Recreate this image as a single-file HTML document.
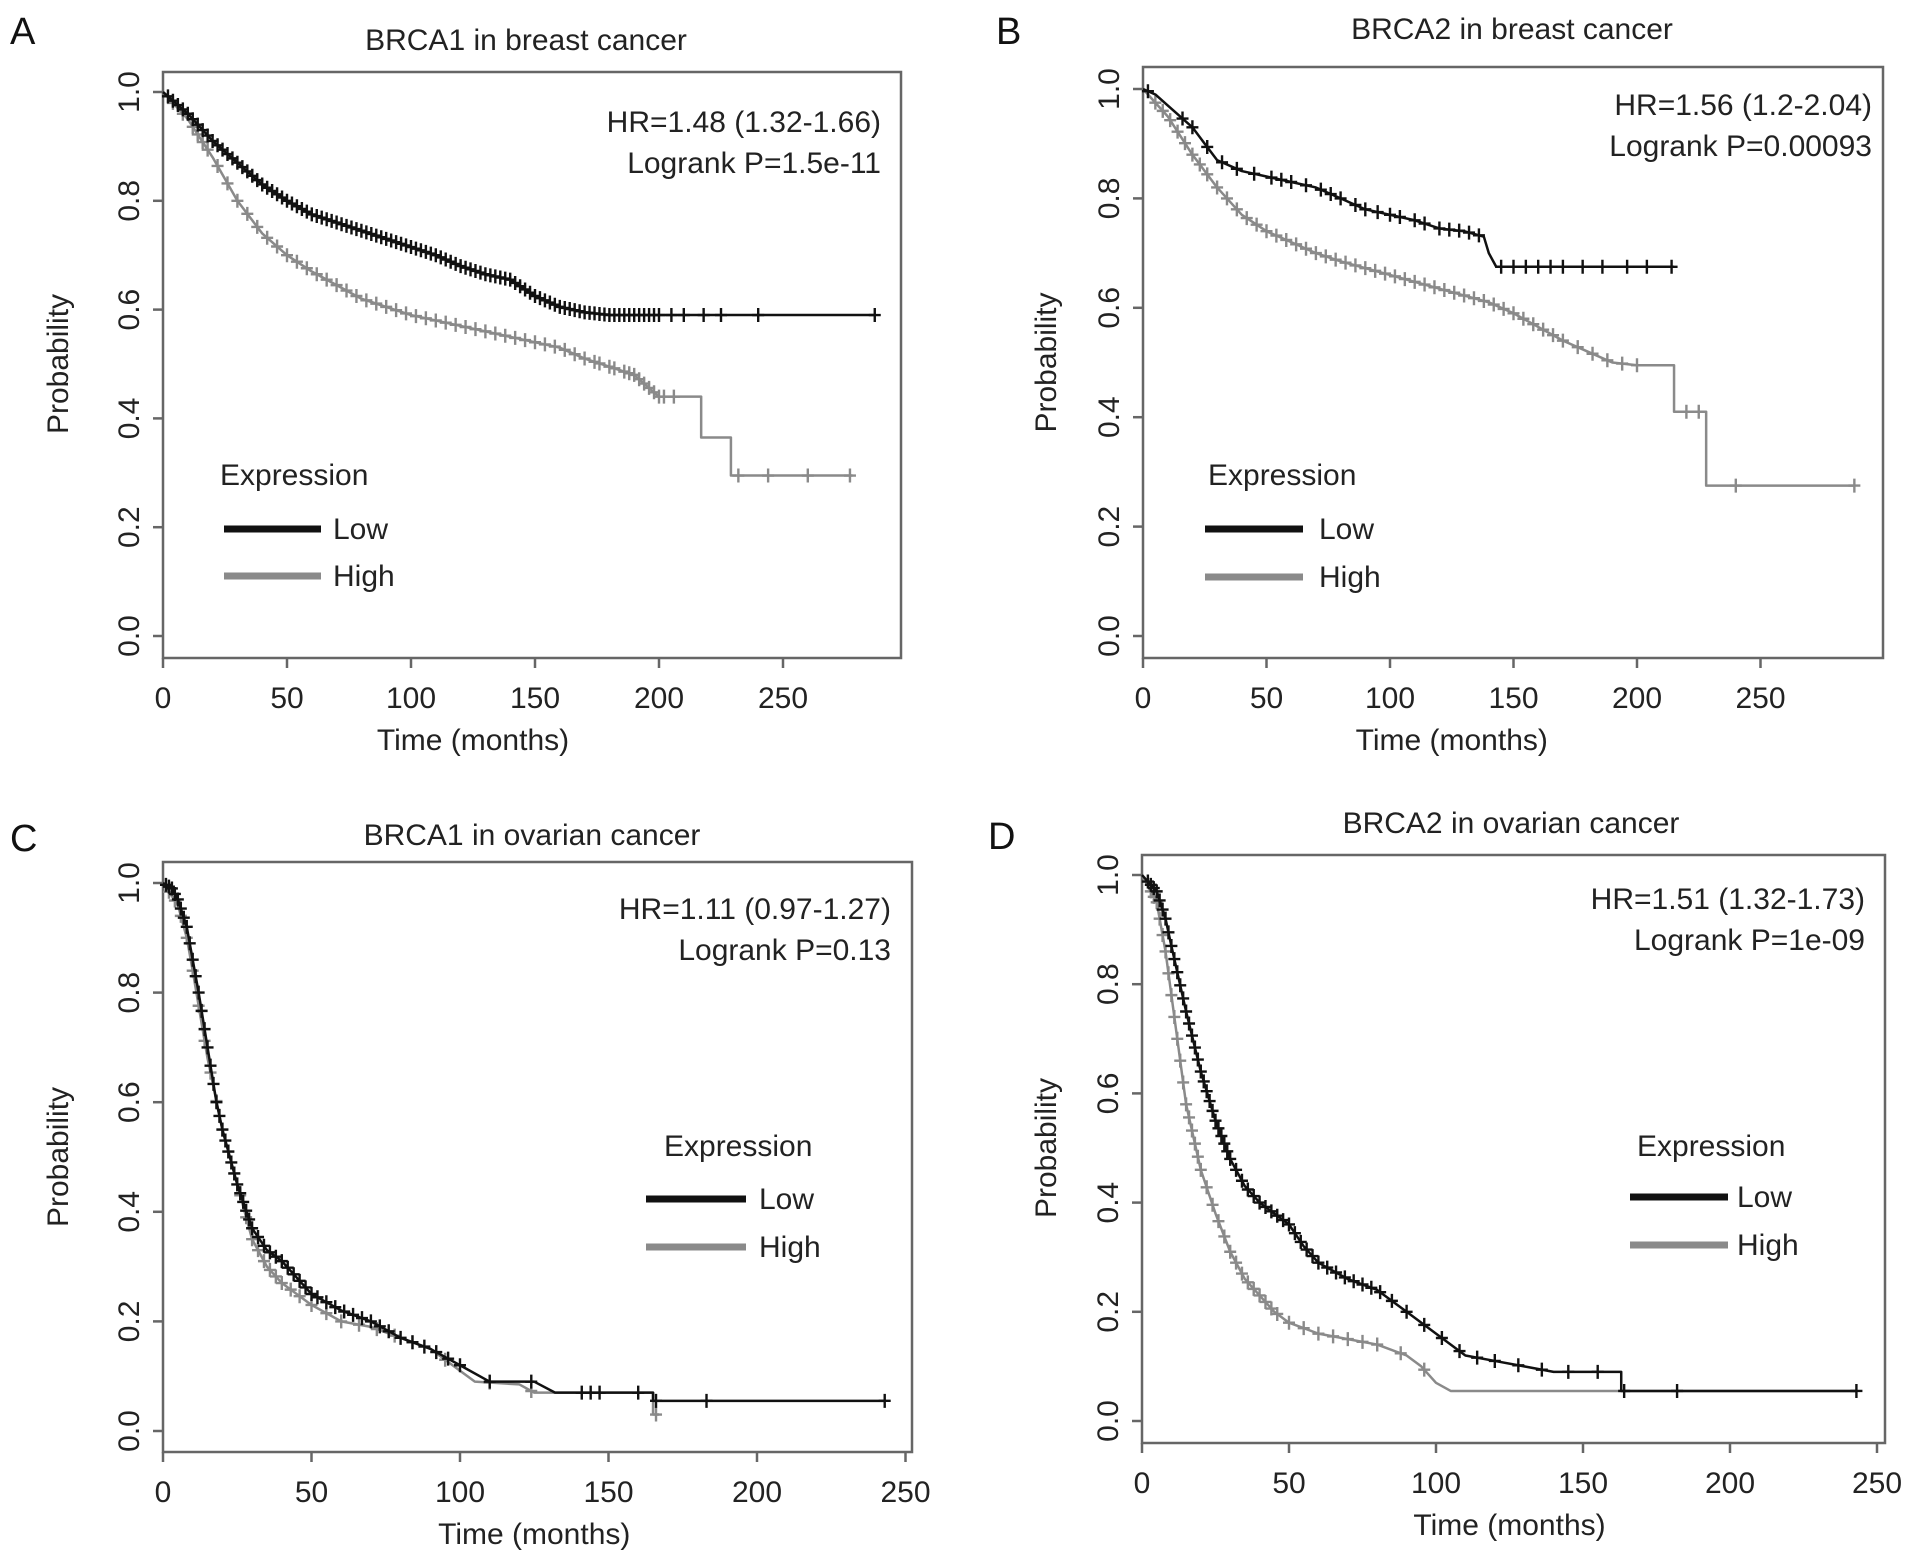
<!DOCTYPE html>
<html><head><meta charset="utf-8"><style>
html,body{margin:0;padding:0;background:#fff;}
svg{display:block;font-family:"Liberation Sans",Arial,sans-serif;}
</style></head><body>
<svg id="fig" width="1913" height="1558" viewBox="0 0 1913 1558"></svg>
<script>
// ---- Data (time in months, survival probability) ----
const tickX = [0,50,100,150,200,250];
const tickY = [0,0.2,0.4,0.6,0.8,1.0];
const tickYLabels = ["0.0","0.2","0.4","0.6","0.8","1.0"];

const aLowT = [0,5,10,20,30,40,50,60,70,80,90,100,110,120,130,140,150,160,170,180,287];
const aLowS = [1,0.98,0.96,0.91,0.87,0.83,0.80,0.775,0.76,0.745,0.73,0.715,0.70,0.68,0.665,0.655,0.625,0.605,0.595,0.59,0.59];
const aHighT = [0,10,20,30,40,50,60,70,80,90,100,120,140,160,170,180,190,195,200,217,217,229,229,278];
const aHighS = [1,0.95,0.88,0.80,0.74,0.70,0.67,0.645,0.62,0.605,0.59,0.57,0.55,0.53,0.51,0.495,0.48,0.46,0.44,0.44,0.365,0.365,0.295,0.295];
const aLowC = [2,4,6,8,10,12,14,16,18,20,22,24,26,28,30,32,34,36,38,40,42,44,46,48,50,52,54,56,58,60,62,64,66,68,70,72,74,76,78,80,82,84,86,88,90,92,94,96,98,100,102,104,106,108,110,112,114,116,118,120,122,124,126,128,130,132,134,136,138,140,142,144,146,148,150,152,154,156,158,160,162,164,166,168,170,172,174,176,178,180,182,184,186,188,190,192,194,196,198,200,205,210,218,225,240,287];
const aHighC = [4,8,12,14,16,18,22,26,30,34,38,42,46,50,54,58,62,66,70,74,78,82,86,90,94,98,102,106,110,114,118,122,126,130,134,138,142,146,150,154,158,162,166,170,174,176,180,182,186,188,190,192,194,196,198,200,202,206,232,244,260,277];

const bLowT = [0,5,10,20,25,30,40,50,60,70,80,90,100,110,120,130,138,140,143,215];
const bLowS = [1,0.99,0.97,0.93,0.90,0.87,0.85,0.84,0.83,0.82,0.80,0.78,0.77,0.76,0.745,0.74,0.73,0.70,0.675,0.675];
const bHighT = [0,10,20,30,40,50,60,70,80,100,120,140,150,160,170,180,190,200,215,215,228,228,288];
const bHighS = [1,0.95,0.88,0.82,0.77,0.74,0.72,0.70,0.685,0.66,0.635,0.61,0.59,0.565,0.54,0.52,0.50,0.495,0.495,0.41,0.41,0.275,0.275];
const bLowC = [2,16,20,26,32,38,45,52,56,60,66,72,76,80,86,90,95,100,104,110,114,120,124,128,132,136,145,150,155,160,165,170,178,186,196,204,214];
const bHighC = [5,8,11,14,17,20,23,26,30,34,38,42,46,50,54,58,62,66,70,74,78,82,86,90,94,98,102,106,110,114,118,122,126,130,134,138,142,146,150,154,158,162,166,170,176,182,188,194,200,220,225,240,288];

const cLowT = [0,3,5,8,10,12,15,18,20,25,30,35,40,45,50,60,70,80,90,100,110,125,132,165,165,243];
const cLowS = [1,0.99,0.97,0.92,0.86,0.80,0.70,0.60,0.55,0.45,0.37,0.33,0.31,0.28,0.25,0.22,0.20,0.17,0.15,0.12,0.09,0.09,0.07,0.07,0.055,0.055];
const cHighT = [0,5,8,10,15,20,25,30,35,40,50,60,70,80,90,100,105,120,125,165,165,167];
const cHighS = [1,0.96,0.90,0.84,0.68,0.55,0.45,0.35,0.30,0.27,0.23,0.20,0.19,0.17,0.15,0.11,0.09,0.085,0.07,0.07,0.03,0.03];
const cLowC = [1,2,3,4,5,6,7,8,9,10,11,12,13,14,15,16,17,18,19,20,21,22,23,24,25,26,27,28,29,30,32,34,36,38,40,42,44,46,48,50,52,55,58,61,64,67,70,73,76,80,84,88,92,96,100,110,124,141,144,147,160,166,183,243];
const cHighC = [2,4,6,8,10,12,14,16,18,20,22,24,26,28,30,32,34,36,38,40,43,46,50,55,60,66,72,78,84,95,110,124,166];

const dLowT = [0,5,8,10,15,20,25,30,35,40,45,50,55,60,70,80,90,100,110,120,130,140,163,163,243];
const dLowS = [1,0.97,0.92,0.87,0.75,0.64,0.55,0.48,0.43,0.40,0.38,0.36,0.32,0.29,0.26,0.24,0.20,0.16,0.12,0.11,0.10,0.09,0.09,0.055,0.055];
const dHighT = [0,5,8,10,15,20,25,30,35,40,45,50,60,70,80,90,95,100,105,243];
const dHighS = [1,0.95,0.86,0.78,0.58,0.46,0.38,0.31,0.26,0.23,0.20,0.18,0.16,0.15,0.14,0.12,0.10,0.07,0.055,0.055];
const dLowC = [2,3,4,5,6,7,8,9,10,11,12,13,14,15,16,17,18,19,20,21,22,23,24,25,26,27,28,29,30,32,34,36,38,40,42,44,46,48,50,52,54,56,58,60,63,66,69,72,75,78,81,85,90,96,102,108,114,120,128,136,145,155,164,182,243];
const dHighC = [3,4,5,6,7,8,9,10,11,12,13,14,15,16,17,18,19,20,22,24,26,28,30,32,34,36,38,40,42,44,46,50,55,60,65,70,75,80,88,96];

const panels = [
 {id:"a",letter:"A",title:"BRCA1 in breast cancer",hr:"HR=1.48 (1.32-1.66)",p:"Logrank P=1.5e-11",
  x0:163,pxm:2.48,y0:636,y1:92,boxT:72,boxB:658,boxR:901,lx:68,
  title_x:526,title_y:50,letter_x:10,letter_y:44,hrX:881,hrY:132,leg:{ex:220,ey:485,lx1:224,lx2:321,ly:529,ly2:576,tx:333},
  low:[aLowT,aLowS,aLowC],high:[aHighT,aHighS,aHighC]},
 {id:"b",letter:"B",title:"BRCA2 in breast cancer",hr:"HR=1.56 (1.2-2.04)",p:"Logrank P=0.00093",
  x0:1143,pxm:2.47,y0:636,y1:89,boxT:67,boxB:658,boxR:1883,lx:1056,
  title_x:1512,title_y:39,letter_x:996,letter_y:44,hrX:1872,hrY:115,leg:{ex:1208,ey:485,lx1:1205,lx2:1303,ly:529,ly2:577,tx:1319},
  low:[bLowT,bLowS,bLowC],high:[bHighT,bHighS,bHighC]},
 {id:"c",letter:"C",title:"BRCA1 in ovarian cancer",hr:"HR=1.11 (0.97-1.27)",p:"Logrank P=0.13",
  x0:163,pxm:2.97,y0:1431,y1:883,boxT:862,boxB:1452,boxR:912,lx:68,
  title_x:532,title_y:845,letter_x:10,letter_y:851,hrX:891,hrY:919,leg:{ex:664,ey:1156,lx1:646,lx2:746,ly:1199,ly2:1247,tx:759},
  low:[cLowT,cLowS,cLowC],high:[cHighT,cHighS,cHighC]},
 {id:"d",letter:"D",title:"BRCA2 in ovarian cancer",hr:"HR=1.51 (1.32-1.73)",p:"Logrank P=1e-09",
  x0:1142,pxm:2.94,y0:1421,y1:875,boxT:855,boxB:1443,boxR:1885,lx:1056,
  title_x:1511,title_y:833,letter_x:988,letter_y:849,hrX:1865,hrY:909,leg:{ex:1637,ey:1156,lx1:1630,lx2:1728,ly:1197,ly2:1245,tx:1737},
  low:[dLowT,dLowS,dLowC],high:[dHighT,dHighS,dHighC]}
];

const NS="http://www.w3.org/2000/svg";
const svg=document.getElementById('fig');
function mk(tag,attrs,parent){const e=document.createElementNS(NS,tag);for(const k in attrs)e.setAttribute(k,attrs[k]);(parent||svg).appendChild(e);return e;}
function txt(s,attrs,parent){const e=mk('text',attrs,parent);e.textContent=s;return e;}
function survAt(T,S,t){
  for(let i=1;i<T.length;i++){
    if(t<=T[i]){const dt=T[i]-T[i-1];return dt>0?S[i-1]+(S[i]-S[i-1])*(t-T[i-1])/dt:S[i];}
  }
  return S[S.length-1];
}

panels.forEach(P=>{
  const X=t=>P.x0+t*P.pxm;
  const Y=s=>P.y0-(P.y0-P.y1)*s;
  const g=mk('g',{});
  
  
  const L=txt(P.letter,{x:P.letter_x,y:P.letter_y,'font-size':38,fill:'#111'},g);
  
  
  const T=txt(P.title,{x:P.title_x,y:P.title_y,'font-size':30,'text-anchor':'middle',fill:'#222'},g);
  
  
  const box=mk('rect',{x:P.x0,y:P.boxT,width:P.boxR-P.x0,height:P.boxB-P.boxT,fill:'none',stroke:'#666','stroke-width':2.5},g);
  
  
  tickX.forEach(v=>{
    const l=mk('line',{x1:X(v),x2:X(v),y1:P.boxB,y2:P.boxB+10,stroke:'#666','stroke-width':2.5},g);
    
    
    const t=txt(String(v),{x:X(v),y:P.boxB+50,'font-size':30,'text-anchor':'middle',fill:'#222'},g);
    
    
  });
  tickY.forEach((v,i)=>{
    const l=mk('line',{x1:P.x0-10,x2:P.x0,y1:Y(v),y2:Y(v),stroke:'#666','stroke-width':2.5},g);
    
    
    const t=txt(tickYLabels[i],{x:P.x0-24,y:Y(v),'font-size':30,'text-anchor':'middle',fill:'#222',transform:`rotate(-90 ${P.x0-24} ${Y(v)})`},g);
    
    
  });
  const cy=(P.y0+P.y1)/2;
  const yt=txt('Probability',{x:P.lx,y:cy,'font-size':30,'text-anchor':'middle',fill:'#222',transform:`rotate(-90 ${P.lx} ${cy})`},g);
  
  
  const xt=txt('Time (months)',{x:(P.x0+X(250))/2,y:P.boxB+92,'font-size':30,'text-anchor':'middle',fill:'#222'},g);
  
  
  const h1=txt(P.hr,{x:P.hrX,y:P.hrY,'font-size':30,'text-anchor':'end',fill:'#222'},g);
  
  
  const h2=txt(P.p,{x:P.hrX,y:P.hrY+41,'font-size':30,'text-anchor':'end',fill:'#222'},g);
  
  
  [[P.high,'#8a8a8a','high'],[P.low,'#111','low']].forEach(([ser,col,nm])=>{
    const [TT,SS,CC]=ser;
    let d=`M${X(TT[0])},${Y(SS[0])}`;
    for(let i=1;i<TT.length;i++){d+=` L${X(TT[i])},${Y(SS[i])}`;}
    const p=mk('path',{d:d,fill:'none',stroke:col,'stroke-width':2.5,'stroke-linejoin':'round'},g);
    
    
    CC.forEach(c=>{
      const xx=X(c),yy=Y(survAt(TT,SS,c));
      const m=mk('path',{d:`M${xx-6},${yy} H${xx+6} M${xx},${yy-7} V${yy+7}`,stroke:col,'stroke-width':2.4},g);
      
      
    });
  });
  const lg=mk('g',{},g);
  
  
  const et=txt('Expression',{x:P.leg.ex,y:P.leg.ey,'font-size':30,fill:'#222'},lg);
  
  
  [['Low','#111',P.leg.ly],['High','#8a8a8a',P.leg.ly2]].forEach(([n,c,yy])=>{
    const l=mk('line',{x1:P.leg.lx1,x2:P.leg.lx2,y1:yy,y2:yy,stroke:c,'stroke-width':7},lg);
    
    
    const t=txt(n,{x:P.leg.tx,y:yy+10,'font-size':30,fill:'#222'},lg);
    
    
  });
});
</script>
</body></html>
